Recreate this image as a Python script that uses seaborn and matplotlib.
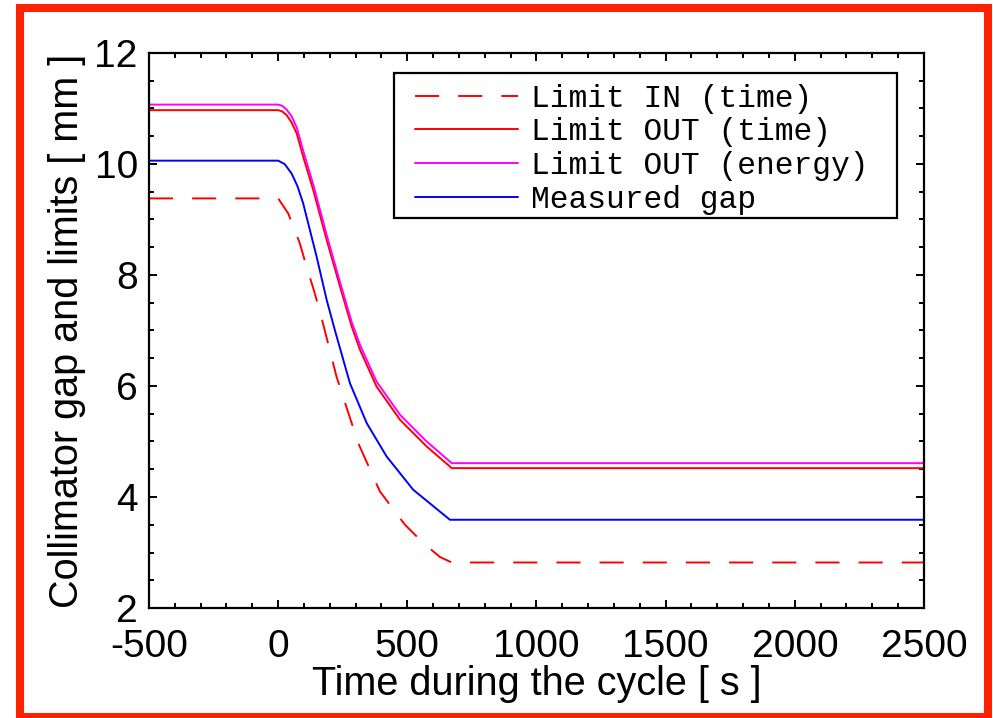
import matplotlib
matplotlib.use("Agg")
import matplotlib.pyplot as plt
from matplotlib.patches import Rectangle
from matplotlib.ticker import MultipleLocator
import seaborn as sns

# === data ===
t_out = [-500, 0, 15, 33, 52, 72, 97, 136, 188, 239, 285, 317, 381, 472, 575, 672, 2500]
limit_out_time = [10.97, 10.97, 10.95, 10.88, 10.75, 10.55, 10.13, 9.53, 8.63, 7.80, 7.07,
                  6.65, 5.99, 5.39, 4.91, 4.52, 4.52]
limit_out_energy = [11.07, 11.07, 11.05, 10.98, 10.86, 10.66, 10.24, 9.63, 8.72, 7.88, 7.15,
                    6.74, 6.08, 5.48, 5.00, 4.61, 4.61]

t_gap = [-500, 0, 25, 52, 75, 97, 149, 188, 220, 278, 343, 420, 523, 665, 2500]
measured_gap = [10.06, 10.06, 10.00, 9.83, 9.60, 9.29, 8.33, 7.55, 7.00, 6.05, 5.33, 4.73,
                4.13, 3.59, 3.59]

t_in = [-500, 0, 39, 84, 110, 136, 162, 226, 310, 394, 491, 560, 626, 672, 2500]
limit_in_time = [9.38, 9.38, 9.11, 8.57, 8.15, 7.76, 7.34, 6.17, 4.97, 4.10, 3.50, 3.18,
                 2.92, 2.82, 2.82]

# === style ===
sns.set_style("ticks")
plt.rcParams["font.family"] = ["Liberation Sans", "DejaVu Sans"]
plt.rcParams["axes.unicode_minus"] = False
plt.rcParams["text.color"] = "black"
plt.rcParams["axes.labelcolor"] = "black"

fig = plt.figure(figsize=(9.93, 7.18), dpi=100)
ax = fig.add_axes([0.150, 0.1532, 0.7805, 0.773])

lw = 1.4
sns.lineplot(x=t_in, y=limit_in_time, ax=ax, color="#ff0000", lw=lw,
             linestyle=(0, (12.4, 9.8)), estimator=None, label="Limit IN (time)")
sns.lineplot(x=t_out, y=limit_out_time, ax=ax, color="#ff0000", lw=lw,
             estimator=None, label="Limit OUT (time)")
sns.lineplot(x=t_out, y=limit_out_energy, ax=ax, color="#ff00ff", lw=lw,
             estimator=None, label="Limit OUT (energy)")
sns.lineplot(x=t_gap, y=measured_gap, ax=ax, color="#0000ff", lw=lw,
             estimator=None, label="Measured gap")

ax.set_xlim(-500, 2500)
ax.set_ylim(2, 12)
ax.xaxis.set_major_locator(MultipleLocator(500))
ax.xaxis.set_minor_locator(MultipleLocator(100))
ax.yaxis.set_major_locator(MultipleLocator(2))
ax.yaxis.set_minor_locator(MultipleLocator(0.5))
ax.tick_params(which="both", direction="in", top=True, right=True, width=1.4,
               labelsize=28, colors="black")
ax.tick_params(which="major", length=6)
ax.tick_params(which="minor", length=3.5)
ax.tick_params(axis="x", which="major", pad=15)
ax.tick_params(axis="y", which="major", pad=8)
for s in ax.spines.values():
    s.set_linewidth(1.6)
    s.set_color("black")

ax.set_xlabel("Time during the cycle [ s ]", fontsize=28.5, labelpad=0)
ax.set_ylabel("Collimator gap and limits [ mm ]", fontsize=28.5, labelpad=6)

# legend entries without frame, box drawn separately (wider, tighter than mpl's)
leg = ax.legend(loc="upper left", bbox_to_anchor=(0.343, 0.945), borderaxespad=0,
                prop={"family": ["Liberation Mono", "DejaVu Sans Mono"], "size": 22.5},
                handlelength=3.3, handletextpad=0.42, labelspacing=0.12,
                borderpad=0, frameon=False)
ax.add_patch(Rectangle((0.316, 0.703), 0.649, 0.261, transform=ax.transAxes,
                       fill=False, edgecolor="black", linewidth=1.6, zorder=5))

# orange-red frame round the whole figure
fig.patches.append(Rectangle((0.0201, 0.0014), 0.975, 0.9875, transform=fig.transFigure,
                             fill=False, edgecolor="#ff2200", linewidth=5.8))

fig.savefig("out.png", dpi=100)
